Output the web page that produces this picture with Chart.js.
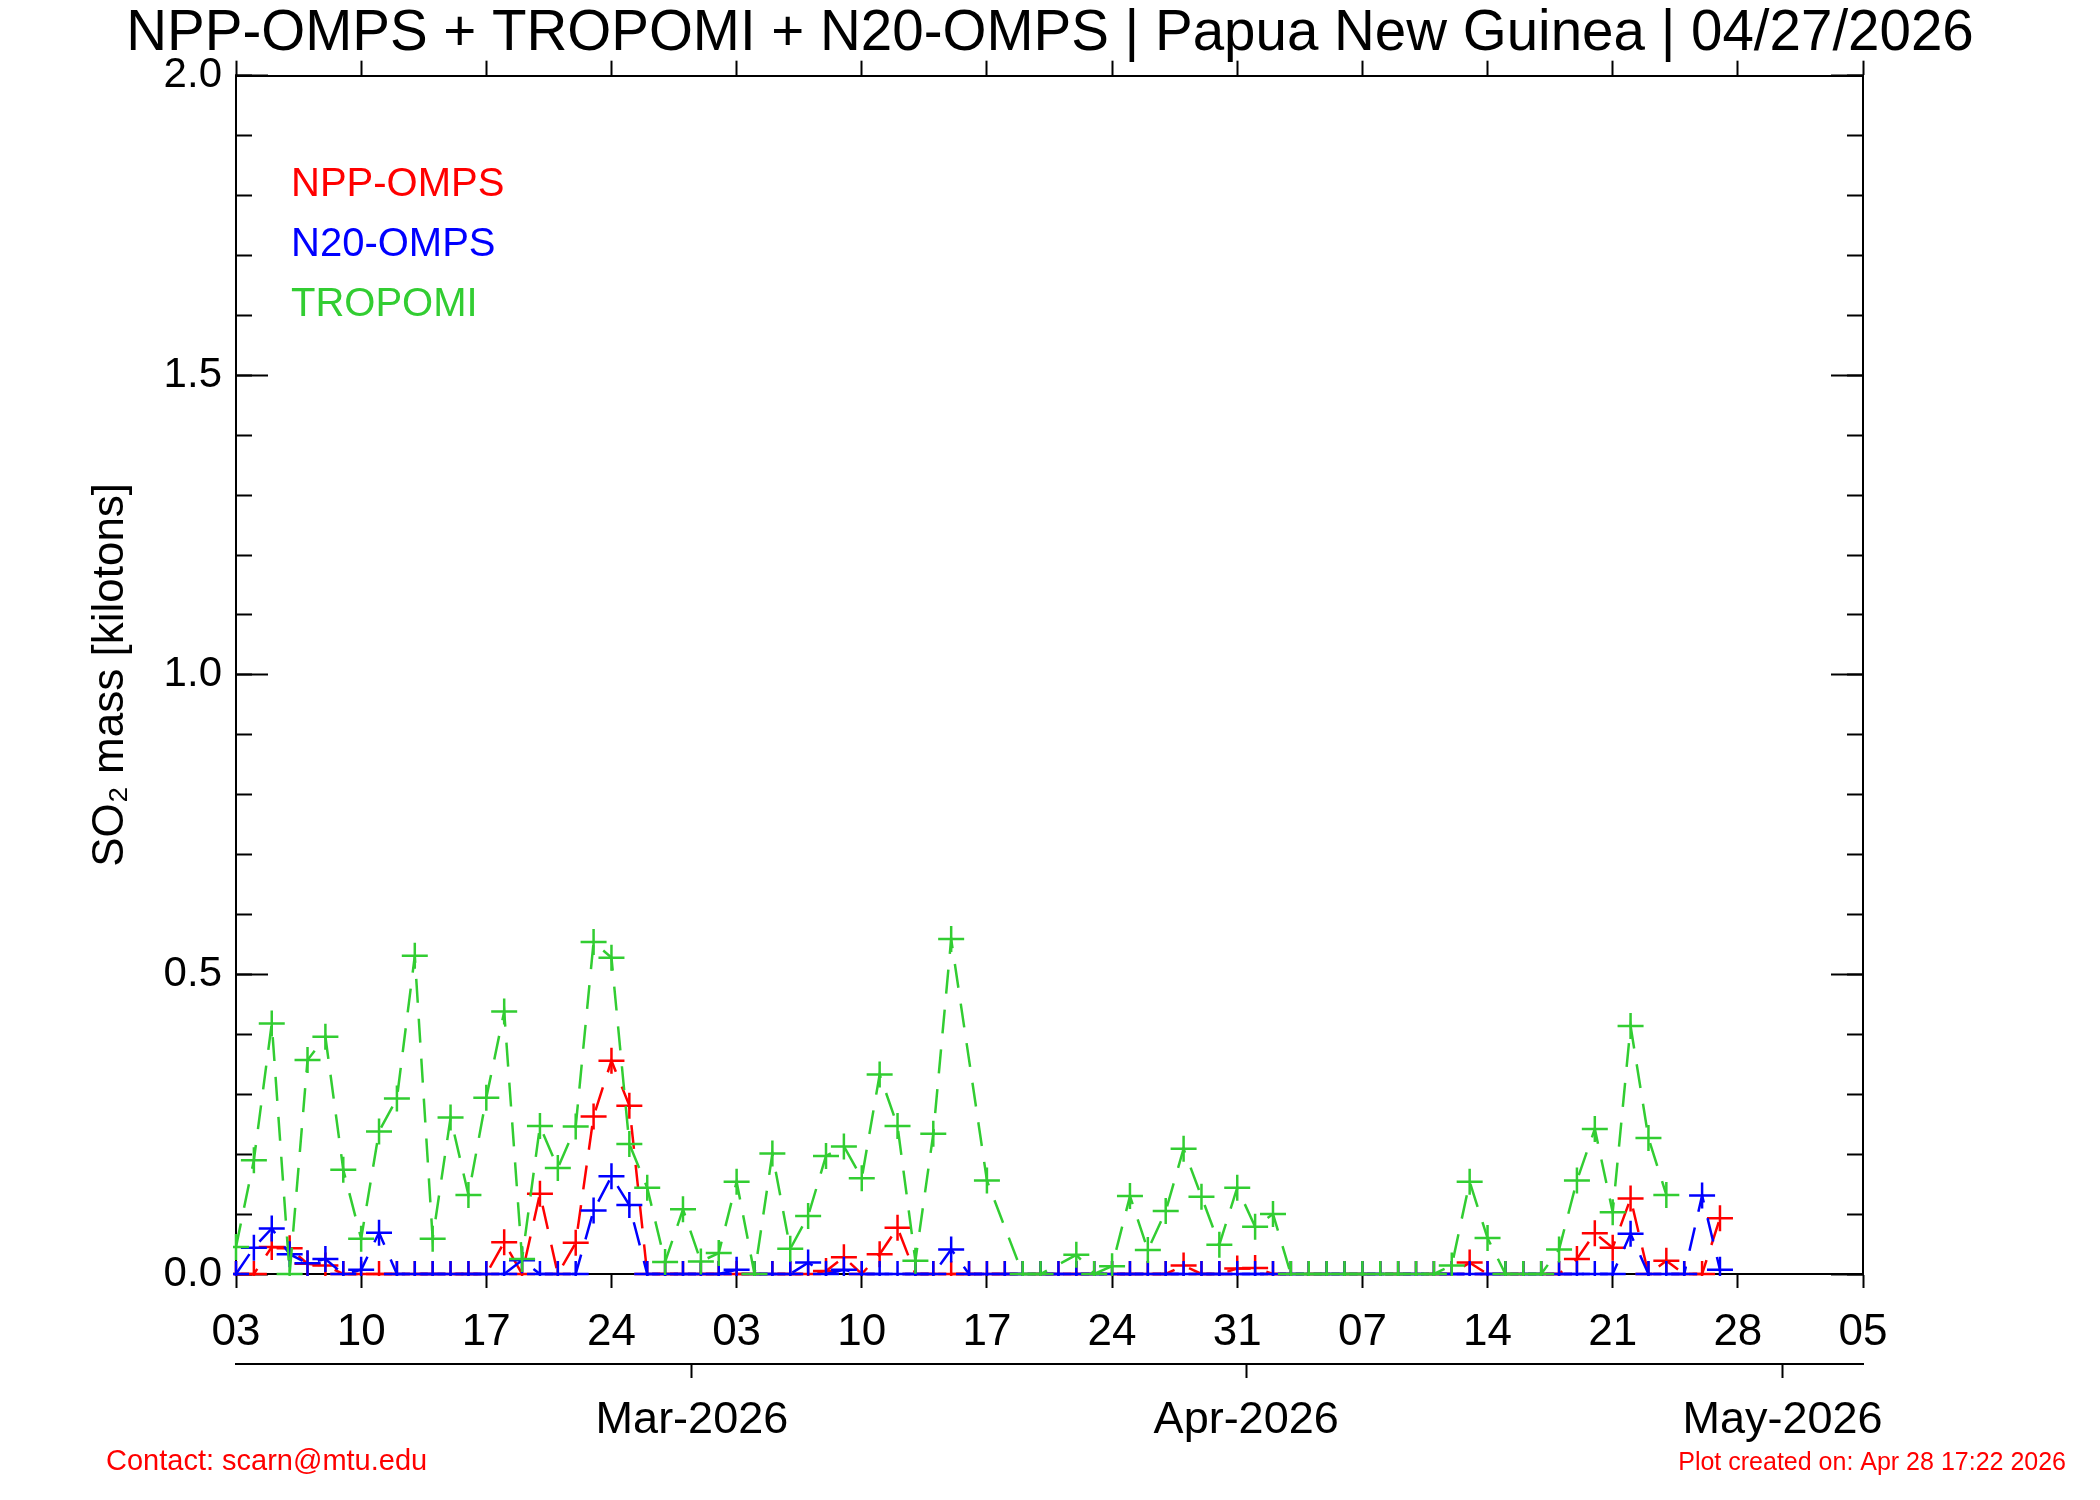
<!DOCTYPE html>
<html>
<head>
<meta charset="utf-8">
<script src="https://cdn.jsdelivr.net/npm/chart.js@4.4.1/dist/chart.umd.min.js"></script>
<style>html,body{margin:0;padding:0;background:#fff;}canvas{display:block;}</style>
</head>
<body>
<canvas id="c" width="2100" height="1500"></canvas>
<script>
// ---- data (one value per day, starting at startDate) ----
const startDate = '2026-02-03';
const xTickLabels = ['03','10','17','24','03','10','17','24','31','07','14','21','28','05'];
const monthDates = ['2026-03-01','2026-04-01','2026-05-01'];
const monthLabels = ['Mar-2026','Apr-2026','May-2026'];
const yTickValues = [0, 0.5, 1.0, 1.5, 2.0];
const seriesNames = ['NPP-OMPS', 'N20-OMPS', 'TROPOMI'];

const nppOmps = [
  0, 0, 0.045, 0.043, 0.017, 0.014, 0, 0, 0, 0,
  0, 0, 0, 0, 0, 0.053, 0, 0.134, 0, 0.052,
  0.263, 0.356, 0.281, 0, 0, 0, 0, 0, 0, 0,
  0, 0, 0, 0.005, 0.028, 0, 0.033, 0.077, 0, 0,
  0, 0, 0, 0, 0, 0, 0, 0, 0, 0,
  0, 0, 0, 0.014, 0, 0, 0.009, 0.01, 0, 0,
  0, 0, 0, 0, 0, 0, 0, 0, 0, 0.019,
  0, 0, 0, 0, 0, 0.025, 0.068, 0.044, 0.126, 0,
  0.022, 0, 0, 0.093
];
const n20Omps = [
  0, 0.044, 0.076, 0.033, 0.018, 0.025, 0, 0.007, 0.069, 0,
  0, 0, 0, 0, 0, 0, 0.023, 0, 0, 0,
  0.106, 0.163, 0.115, 0, 0, 0, 0, 0, 0.007, 0,
  0, 0, 0.019, 0, 0.007, 0, 0, 0, 0, 0,
  0.041, 0, 0, 0, 0, 0, 0, 0, 0, 0,
  0, 0, 0, 0, 0, 0, 0, 0, 0, 0,
  0, 0, 0, 0, 0, 0, 0, 0, 0, 0,
  0, 0, 0, 0, 0, 0, 0, 0, 0.067, 0,
  0, 0, 0.131, 0.007
];
const tropomi = [
  0.045, 0.19, 0.418, 0, 0.357, 0.396, 0.174, 0.059, 0.238, 0.293,
  0.531, 0.059, 0.261, 0.132, 0.294, 0.438, 0.025, 0.247, 0.177, 0.246,
  0.554, 0.528, 0.217, 0.144, 0.02, 0.108, 0.021, 0.035, 0.154, 0,
  0.201, 0.042, 0.097, 0.197, 0.213, 0.16, 0.333, 0.247, 0.022, 0.234,
  0.559, null, 0.156, null, 0, 0, null, 0.032, 0, 0.013,
  0.13, 0.04, 0.105, 0.209, 0.129, 0.049, 0.144, 0.079, 0.1, 0,
  0, 0, 0, 0, 0, 0, 0, 0, 0.014, 0.154,
  0.06, 0, 0, 0, 0.041, 0.156, 0.242, 0.103, 0.414, 0.227,
  0.132
];

const titleText = 'NPP-OMPS + TROPOMI + N20-OMPS | Papua New Guinea | 04/27/2026';
const yAxisTitle = 'SO\u2082 mass [kilotons]';
const contactText = 'Contact: scarn@mtu.edu';
const createdText = 'Plot created on: Apr 28 17:22 2026';

// ---- helpers ----
const DAY = 86400000;
const t0 = Date.parse(startDate + 'T00:00:00Z');
const dayIndex = d => (Date.parse(d + 'T00:00:00Z') - t0) / DAY;
const xMax = (xTickLabels.length - 1) * 7;
const weekTicks = xTickLabels.map((_, i) => ({ value: i * 7 }));
const monthTicks = monthDates.map(d => ({ value: dayIndex(d) - 0.5 }));
const yMinorTicks = Array.from({ length: 21 }, (_, i) => ({ value: i / 10 }));
const yMajorTicks = yTickValues.map(v => ({ value: v }));
const toPoints = arr => arr.map((v, i) => ({ x: i, y: v }));

const FONT = "'Liberation Sans', Arial, Helvetica, sans-serif";
const RED = '#ff0000', BLUE = '#0000ff', GREEN = '#32cd32';
const AX = '#000000';

function mkDataset(label, data, color, order) {
  return {
    label, data: toPoints(data), order,
    borderColor: color, backgroundColor: color,
    borderWidth: 2.5, borderDash: [24, 16],
    pointStyle: 'cross', pointRadius: 13, pointHoverRadius: 13,
    pointBorderColor: color, pointBorderWidth: 2.5,
    pointBackgroundColor: color,
    spanGaps: true, tension: 0, fill: false,
    clip: { left: 3, top: 0, right: 3, bottom: 2 }
  };
}

const textPlugin = {
  id: 'texts',
  afterDraw(chart) {
    const ctx = chart.ctx, ca = chart.chartArea;
    ctx.save();
    ctx.textBaseline = 'alphabetic';
    ctx.textAlign = 'left';
    ctx.font = '40px ' + FONT;
    chart.data.datasets.forEach((ds, i) => {
      ctx.fillStyle = ds.borderColor;
      ctx.fillText(ds.label, ca.left + 55, ca.top + 120 + i * 60);
    });
    ctx.fillStyle = RED;
    ctx.font = '29px ' + FONT;
    ctx.fillText(contactText, 106, 1470);
    ctx.font = '25px ' + FONT;
    ctx.textAlign = 'right';
    ctx.fillText(createdText, 2066, 1470);
    ctx.restore();
  }
};

const gridOff = (len) => ({ drawOnChartArea: false, drawTicks: true, tickLength: len, tickWidth: 2, tickColor: AX });
const borderOn = { display: true, color: AX, width: 2 };

new Chart(document.getElementById('c'), {
  type: 'line',
  data: {
    datasets: [
      mkDataset(seriesNames[0], nppOmps, RED, 2),
      mkDataset(seriesNames[1], n20Omps, BLUE, 1),
      mkDataset(seriesNames[2], tropomi, GREEN, 0)
    ]
  },
  options: {
    responsive: false,
    devicePixelRatio: 1,
    animation: false,
    events: [],
    layout: { padding: 0 },
    plugins: {
      legend: { display: false },
      tooltip: { enabled: false },
      title: {
        display: true, text: titleText, color: AX,
        font: { family: FONT, size: 56.5, weight: 'normal', lineHeight: 1.18 },
        padding: { top: 1, bottom: 0 }
      }
    },
    scales: {
      x: {
        type: 'linear', position: 'bottom', min: 0, max: xMax, weight: 0,
        afterBuildTicks: s => { s.ticks = weekTicks.map(t => ({ ...t })); },
        afterFit: s => { s.height = 90; },
        ticks: {
          autoSkip: false, maxRotation: 0, minRotation: 0, padding: 18, color: AX,
          font: { family: FONT, size: 44, lineHeight: 1.2 },
          callback: (v, i) => xTickLabels[i]
        },
        grid: gridOff(14), border: borderOn
      },
      xMonth: {
        type: 'linear', position: 'bottom', min: 0, max: xMax, weight: 1,
        afterBuildTicks: s => { s.ticks = monthTicks.map(t => ({ ...t })); },
        afterFit: s => { s.height = 136; },
        ticks: {
          autoSkip: false, maxRotation: 0, minRotation: 0, padding: 16, color: AX,
          font: { family: FONT, size: 45, lineHeight: 1.2 },
          callback: (v, i) => monthLabels[i]
        },
        grid: gridOff(14), border: borderOn
      },
      xTop: {
        type: 'linear', position: 'top', min: 0, max: xMax,
        afterBuildTicks: s => { s.ticks = weekTicks.map(t => ({ ...t })); },
        afterFit: s => { s.height = 8; },
        ticks: { display: false },
        grid: gridOff(15), border: borderOn
      },
      y: {
        type: 'linear', position: 'left', min: 0, max: 2, weight: 1,
        afterBuildTicks: s => { s.ticks = yMajorTicks.map(t => ({ ...t })); },
        afterFit: s => { s.width = 236; },
        ticks: {
          padding: 46, color: AX,
          font: { family: FONT, size: 42 },
          callback: v => Number(v).toFixed(1)
        },
        grid: gridOff(-32), border: borderOn,
        title: {
          display: true, text: yAxisTitle, color: AX,
          font: { family: FONT, size: 44, lineHeight: 1.2 },
          padding: { top: 84, bottom: 0 }
        }
      },
      yMinor: {
        type: 'linear', position: 'left', min: 0, max: 2, weight: 0,
        afterBuildTicks: s => { s.ticks = yMinorTicks.map(t => ({ ...t })); },
        afterFit: s => { s.width = 0; },
        ticks: { display: false },
        grid: gridOff(-16), border: borderOn
      },
      yRight: {
        type: 'linear', position: 'right', min: 0, max: 2, weight: 1,
        afterBuildTicks: s => { s.ticks = yMajorTicks.map(t => ({ ...t })); },
        afterFit: s => { s.width = 237; },
        ticks: { display: false },
        grid: gridOff(-32), border: borderOn
      },
      yRightMinor: {
        type: 'linear', position: 'right', min: 0, max: 2, weight: 0,
        afterBuildTicks: s => { s.ticks = yMinorTicks.map(t => ({ ...t })); },
        afterFit: s => { s.width = 0; },
        ticks: { display: false },
        grid: gridOff(-16), border: borderOn
      }
    }
  },
  plugins: [textPlugin]
});
</script>
</body>
</html>
